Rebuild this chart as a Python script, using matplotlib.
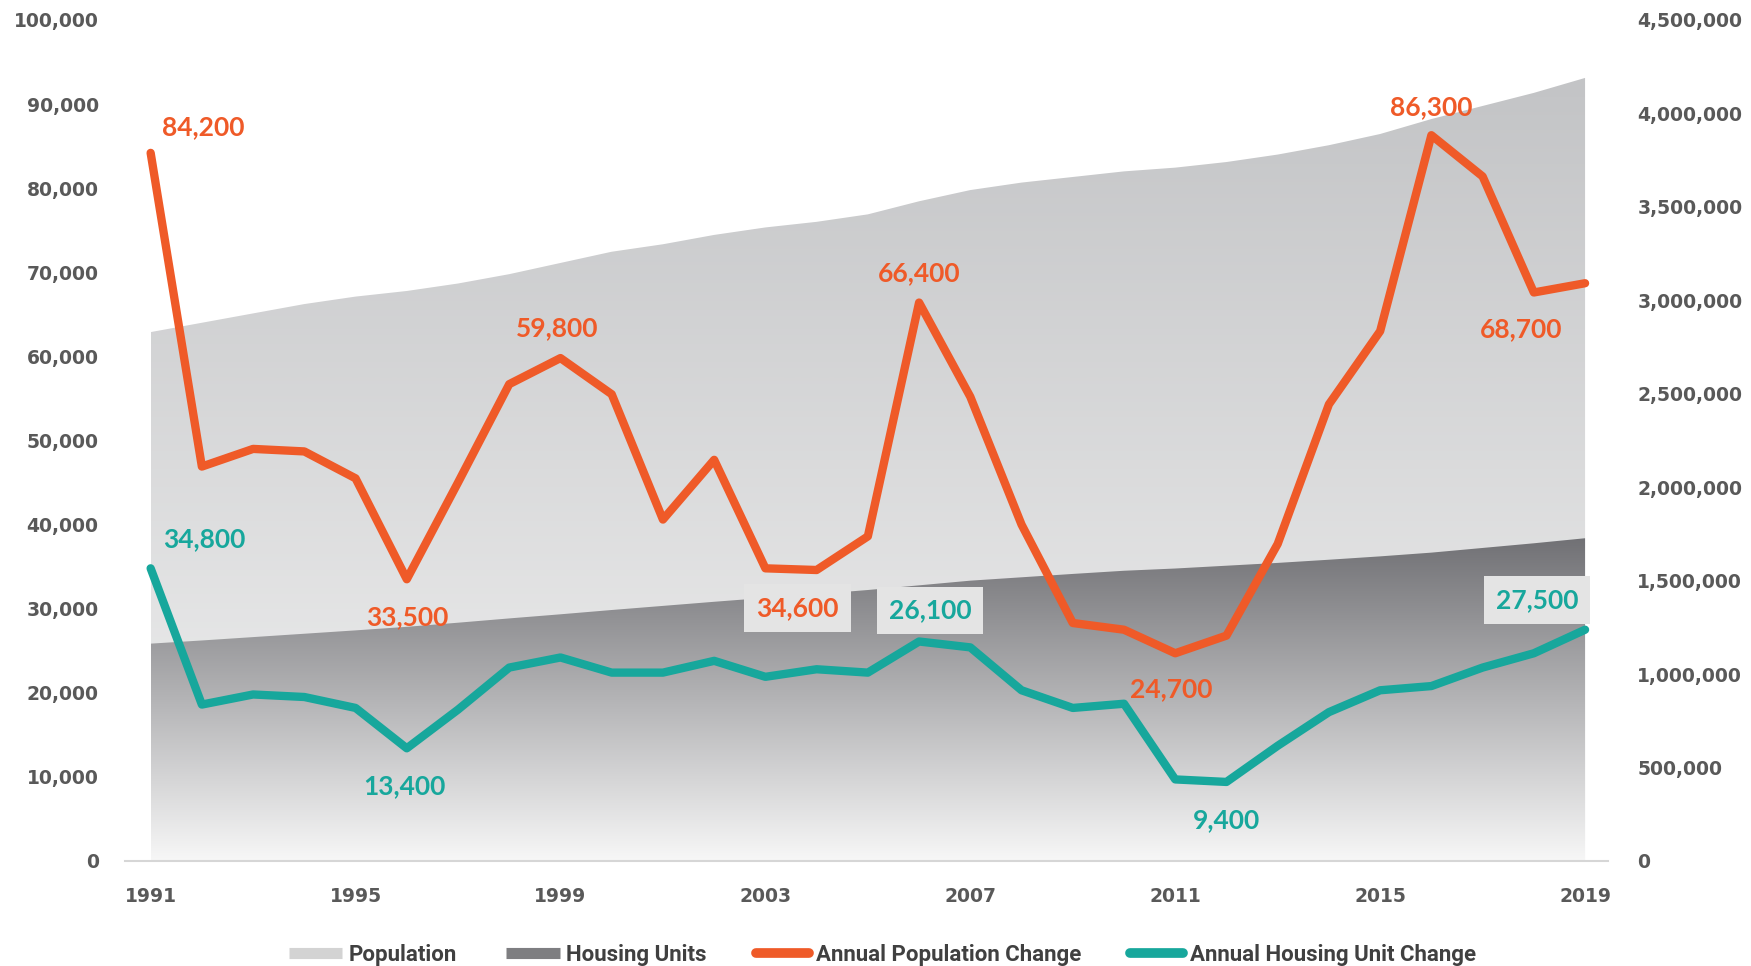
import numpy as np
import matplotlib
matplotlib.use('Agg')
import matplotlib.pyplot as plt
from matplotlib import font_manager
from matplotlib.colors import LinearSegmentedColormap
from matplotlib.patches import PathPatch
from matplotlib.lines import Line2D
from matplotlib.ticker import FuncFormatter

# data
years = list(range(1991, 2020))
pop_change = [84200, 46900, 49000, 48700, 45500, 33500, 45000, 56700, 59800, 55500,
              40600, 47700, 34800, 34600, 38600, 66400, 55200, 40000, 28300, 27500,
              24700, 26800, 37700, 54300, 63000, 86300, 81400, 67600, 68700]
housing_change = [34800, 18600, 19800, 19500, 18200, 13400, 18000, 23000, 24200, 22400,
                  22400, 23800, 21900, 22800, 22400, 26100, 25400, 20300, 18200, 18700,
                  9700, 9400, 13700, 17700, 20300, 20800, 23000, 24700, 27500]
population = [2830000, 2880000, 2930000, 2980000, 3020000, 3050000, 3090000, 3140000,
              3200000, 3260000, 3300000, 3350000, 3390000, 3420000, 3460000, 3530000,
              3590000, 3630000, 3660000, 3690000, 3710000, 3740000, 3780000, 3830000,
              3890000, 3970000, 4040000, 4110000, 4190000]
housing_units = [1163000, 1180000, 1198000, 1216000, 1234000, 1253000, 1275000, 1298000,
                 1320000, 1343000, 1365000, 1387000, 1408000, 1428000, 1450000, 1475000,
                 1500000, 1518000, 1536000, 1553000, 1565000, 1580000, 1595000, 1612000,
                 1630000, 1650000, 1675000, 1700000, 1727000]

# labelled points: (year, offset x px, offset y px, boxed)
pop_labels = [(1991, 53, 26, False), (1996, 0, -38, False), (1999, -3, 30, False),
              (2004, -19, -38, True), (2006, 0, 29, False), (2011, -4, -36, False),
              (2016, 0, 28, False), (2019, -64, -46, False)]
housing_labels = [(1991, 54, 29, False), (1996, -2, -38, False), (2006, 11, 31, True),
                  (2012, 0, -38, False), (2019, -48, 30, True)]

ORANGE = '#ef5a28'
TEAL = '#17a79c'
GREY_TXT = '#595959'

names = {f.name for f in font_manager.fontManager.ttflist}
label_font = 'Lato' if 'Lato' in names else 'DejaVu Sans'

fig = plt.figure(figsize=(17.51, 9.66), dpi=100)
ax = fig.add_axes([0.0714, 0.1087, 0.847, 0.8706])
ax2 = ax.twinx()
ax.set_zorder(2)
ax.patch.set_visible(False)
ax2.set_zorder(1)


def gradient_area(axis, x, top, bottom, c_top, c_bot, ymax, z):
    poly = axis.fill_between(x, bottom, top, color='none', lw=0)
    clip = PathPatch(poly.get_paths()[0], transform=axis.transData,
                     facecolor='none', edgecolor='none')
    axis.add_patch(clip)
    cmap = LinearSegmentedColormap.from_list('g', [c_bot, c_top])
    grad = np.linspace(0, 1, 256).reshape(-1, 1)
    im = axis.imshow(grad, extent=[x[0], x[-1], 0, ymax], origin='lower',
                     aspect='auto', cmap=cmap, zorder=z, interpolation='bicubic')
    im.set_clip_path(clip)


zeros = [0] * len(years)
gradient_area(ax2, years, population, zeros, '#c3c4c6', '#f2f2f2', max(population), 1)
gradient_area(ax2, years, housing_units, zeros, '#717175', '#f7f7f7', max(housing_units), 2)

ax.plot(years, pop_change, color=ORANGE, lw=6, solid_capstyle='round',
        solid_joinstyle='round', zorder=3)
ax.plot(years, housing_change, color=TEAL, lw=6, solid_capstyle='round',
        solid_joinstyle='round', zorder=3)

for series, labels, col in [(pop_change, pop_labels, ORANGE),
                            (housing_change, housing_labels, TEAL)]:
    for yr, dx, dy, boxed in labels:
        v = series[years.index(yr)]
        box = dict(boxstyle='square,pad=0.45', fc='#e4e4e4', ec='none') if boxed else None
        ax.annotate(f'{v:,}', (yr, v), xytext=(dx, dy), textcoords='offset pixels',
                    ha='center', va='center', color=col, fontsize=19,
                    fontweight='bold', family=label_font, bbox=box, zorder=5)

ax.set_xlim(1990.5, 2019.45)
ax.set_ylim(0, 100000)
ax2.set_ylim(0, 4500000)
ax.set_xticks(list(range(1991, 2020, 4)))
ax.set_yticks(list(range(0, 100001, 10000)))
ax2.set_yticks(list(range(0, 4500001, 500000)))
fmt = FuncFormatter(lambda v, p: f'{v:,.0f}')
ax.yaxis.set_major_formatter(fmt)
ax2.yaxis.set_major_formatter(fmt)

for a in (ax, ax2):
    for s in a.spines.values():
        s.set_visible(False)
ax.spines['bottom'].set_visible(True)
ax.spines['bottom'].set_color('#d6d6d6')
ax.spines['bottom'].set_linewidth(1.5)

ax.tick_params(axis='x', length=0, pad=19, labelsize=13.5, labelcolor=GREY_TXT)
ax.tick_params(axis='y', length=0, pad=19, labelsize=13.5, labelcolor=GREY_TXT)
ax2.tick_params(axis='y', length=0, pad=21, labelsize=13.5, labelcolor=GREY_TXT)
for lab in ax.get_xticklabels() + ax.get_yticklabels() + ax2.get_yticklabels():
    lab.set_fontweight('bold')

handles = [Line2D([], [], color='#d3d3d3', lw=8, solid_capstyle='butt'),
           Line2D([], [], color='#7e7e81', lw=8, solid_capstyle='butt'),
           Line2D([], [], color=ORANGE, lw=7, solid_capstyle='round'),
           Line2D([], [], color=TEAL, lw=7, solid_capstyle='round')]
leg = fig.legend(handles, ['Population', 'Housing Units', 'Annual Population Change',
                           'Annual Housing Unit Change'],
                 loc='center', bbox_to_anchor=(0.504, 0.0115), ncol=4, frameon=False,
                 handlelength=2.4, handletextpad=0.3, columnspacing=2.2,
                 prop={'family': 'Roboto', 'weight': 'bold', 'size': 16})
for t in leg.get_texts():
    t.set_color('#404040')

fig.savefig('out.png', dpi=100)
